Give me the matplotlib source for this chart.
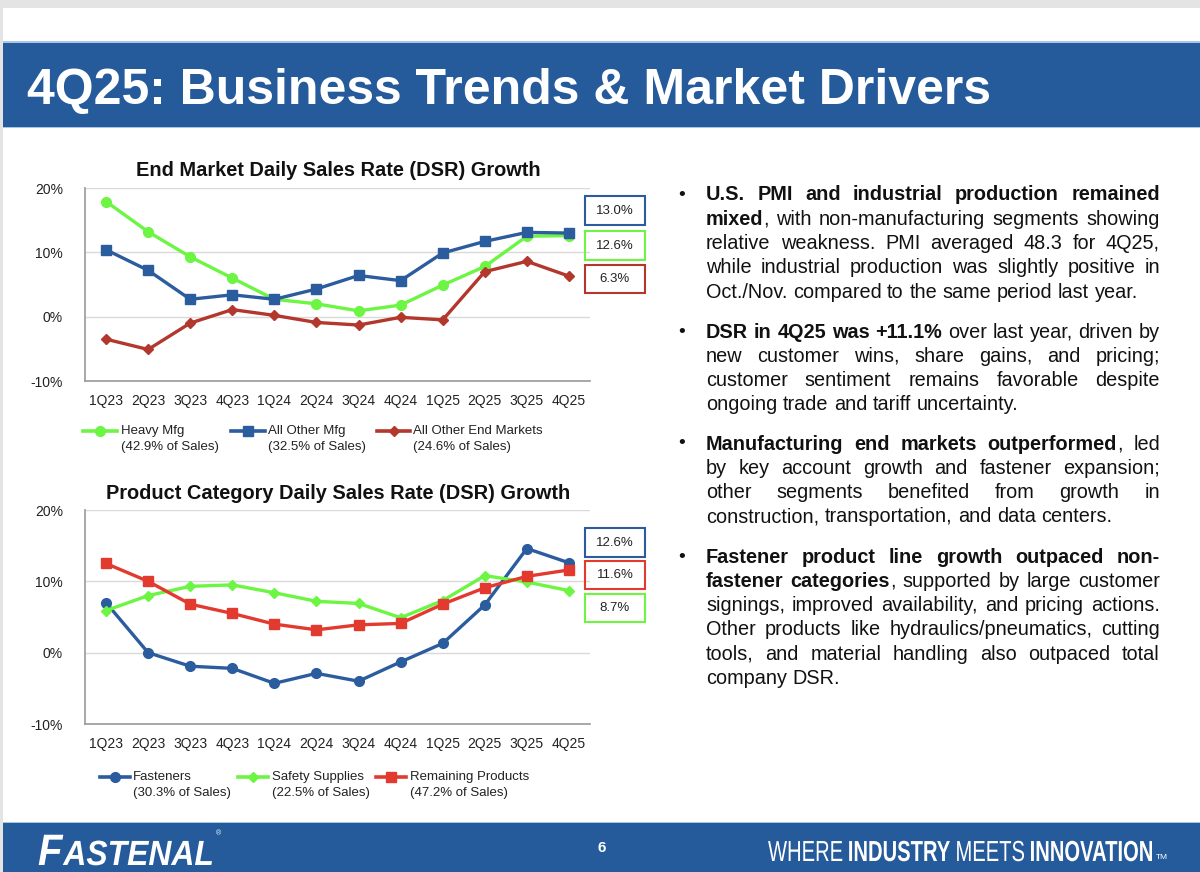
import matplotlib
matplotlib.use('Agg')
import matplotlib.pyplot as plt
import matplotlib.transforms as mtransforms
from matplotlib.lines import Line2D
from matplotlib.patches import Rectangle, PathPatch
from matplotlib.textpath import TextPath
from matplotlib.font_manager import FontProperties

plt.rcParams['font.family'] = ['Liberation Sans', 'DejaVu Sans']

# Data  ************************************************************************
quarters = ['1Q23', '2Q23', '3Q23', '4Q23', '1Q24', '2Q24',
            '3Q24', '4Q24', '1Q25', '2Q25', '3Q25', '4Q25']

# end market DSR growth (%)
heavy_mfg = [17.9, 13.2, 9.3, 6.0, 2.7, 2.0, 0.9, 1.8, 4.9, 7.8, 12.5, 12.6]
other_mfg = [10.4, 7.2, 2.7, 3.4, 2.7, 4.3, 6.4, 5.6, 9.9, 11.7, 13.1, 13.0]
other_end = [-3.5, -5.1, -1.0, 1.1, 0.2, -0.9, -1.3, -0.1, -0.5, 7.0, 8.6, 6.3]

# product category DSR growth (%)
fasteners = [7.0, 0.0, -1.9, -2.2, -4.3, -2.9, -4.0, -1.3, 1.3, 6.7, 14.6, 12.6]
safety = [5.9, 8.0, 9.3, 9.5, 8.4, 7.2, 6.9, 4.9, 7.3, 10.8, 9.9, 8.7]
remaining = [12.5, 10.0, 6.8, 5.5, 4.0, 3.2, 3.9, 4.1, 6.8, 9.1, 10.7, 11.6]

top_names = ['Heavy Mfg', 'All Other Mfg', 'All Other End Markets']
top_shares = ['(42.9% of Sales)', '(32.5% of Sales)', '(24.6% of Sales)']
bot_names = ['Fasteners', 'Safety Supplies', 'Remaining Products']
bot_shares = ['(30.3% of Sales)', '(22.5% of Sales)', '(47.2% of Sales)']

top_callouts = ['13.0%', '12.6%', '6.3%']
bot_callouts = ['12.6%', '11.6%', '8.7%']

bullets = [
    ['**U.S. PMI and industrial production remained**',
     '**mixed**, with non-manufacturing segments showing',
     'relative weakness. PMI averaged 48.3 for 4Q25,',
     'while industrial production was slightly positive in',
     'Oct./Nov. compared to the same period last year.'],
    ['**DSR in 4Q25 was +11.1%** over last year, driven by',
     'new customer wins, share gains, and pricing;',
     'customer sentiment remains favorable despite',
     'ongoing trade and tariff uncertainty.'],
    ['**Manufacturing end markets outperformed**, led',
     'by key account growth and fastener expansion;',
     'other segments benefited from growth in',
     'construction, transportation, and data centers.'],
    ['**Fastener product line growth outpaced non-**',
     '**fastener categories**, supported by large customer',
     'signings, improved availability, and pricing actions.',
     'Other products like hydraulics/pneumatics, cutting',
     'tools, and material handling also outpaced total',
     'company DSR.'],
]

# Style  ***********************************************************************
W, H = 1200, 872
BANNER = '#255A9B'
GREEN = '#6CF542'
BLUE = '#2B5C9E'
DKRED = '#B3372C'
RED = '#E23A2E'


def fx(x):
    return x / W


def fy(y):
    return 1 - y / H


fig = plt.figure(figsize=(12, 8.72), dpi=100)
fig.patch.set_facecolor('white')
renderer = fig.canvas.get_renderer()

# page frame
fig.add_artist(Rectangle((0, fy(8)), 1, 8 / H, transform=fig.transFigure, color='#E4E4E4', lw=0))
fig.add_artist(Rectangle((0, 0), 3 / W, 1, transform=fig.transFigure, color='#E4E4E4', lw=0))
fig.add_artist(Rectangle((fx(3), fy(128)), 1, 87 / H, transform=fig.transFigure, color='#A9C6E6', lw=0))
fig.add_artist(Rectangle((fx(3), fy(127)), 1, 84 / H, transform=fig.transFigure, color=BANNER, lw=0))
fig.text(fx(27), fy(91), '4Q25: Business Trends & Market Drivers', color='white',
         fontsize=36, fontweight='bold', va='center', ha='left')

fig.add_artist(Rectangle((fx(3), 0), 1, 50 / H, transform=fig.transFigure, color='#A9C6E6', lw=0))
fig.add_artist(Rectangle((fx(3), 0), 1, 49 / H, transform=fig.transFigure, color=BANNER, lw=0))


# Charts  **********************************************************************
def make_chart(top, bottom, title, series):
    ax = fig.add_axes([fx(85), fy(bottom), 505 / W, (bottom - top) / H])
    for vals, col, mk, ms in series:
        ax.plot(range(len(quarters)), vals, color=col, lw=2.4, marker=mk, ms=ms,
                markeredgecolor=col, zorder=3, clip_on=False)
    ax.set_xlim(-0.5, 11.5)
    ax.set_ylim(-10, 20)
    ax.set_yticks([-10, 0, 10, 20])
    ax.set_yticklabels(['-10%', '0%', '10%', '20%'])
    ax.set_xticks(range(len(quarters)))
    ax.set_xticklabels(quarters)
    ax.tick_params(length=0, labelsize=10, colors='#222222')
    ax.tick_params(axis='y', pad=16)
    ax.tick_params(axis='x', pad=9)
    ax.grid(axis='y', color='#D9D9D9', lw=1)
    ax.set_axisbelow(True)
    for s in ['top', 'right']:
        ax.spines[s].set_visible(False)
    for s in ['left', 'bottom']:
        ax.spines[s].set_color('#999999')
        ax.spines[s].set_linewidth(1.2)
    fig.text(fx(338), fy(top - 17), title, fontsize=14.4, fontweight='bold',
             ha='center', va='center', color='#111111')
    return ax


def legend_row(y, entries):
    # entries: (handle x0, handle x1, text x, color, marker, ms, name, share)
    for x0, x1, tx, col, mk, ms, name, share in entries:
        fig.add_artist(Line2D([fx(x0), fx((x0 + x1) / 2), fx(x1)], [fy(y)] * 3,
                              transform=fig.transFigure, color=col, lw=2.6,
                              marker=mk, ms=ms, markevery=[1]))
        fig.text(fx(tx), fy(y), name, fontsize=9.5, va='center', color='#222222')
        fig.text(fx(tx), fy(y + 16), share, fontsize=9.5, va='center', color='#222222')


def callouts(boxes):
    for y0, y1, txt, col in boxes:
        fig.add_artist(Rectangle((fx(585), fy(y1)), 60 / W, (y1 - y0) / H,
                                 transform=fig.transFigure, fill=False,
                                 edgecolor=col, lw=1.5))
        fig.text(fx(615), fy((y0 + y1) / 2), txt, fontsize=9.5, ha='center',
                 va='center', color='#222222')


make_chart(188, 381, 'End Market Daily Sales Rate (DSR) Growth',
           [(heavy_mfg, GREEN, 'o', 7), (other_end, DKRED, 'D', 5),
            (other_mfg, BLUE, 's', 7)])
legend_row(431, [(83, 117, 121, GREEN, 'o', 7, top_names[0], top_shares[0]),
                 (231, 265, 268, BLUE, 's', 7, top_names[1], top_shares[1]),
                 (377, 410, 413, DKRED, 'D', 5, top_names[2], top_shares[2])])
callouts([(196, 225, top_callouts[0], BLUE),
          (231, 260, top_callouts[1], GREEN),
          (265, 293, top_callouts[2], DKRED)])

make_chart(510, 724, 'Product Category Daily Sales Rate (DSR) Growth',
           [(fasteners, BLUE, 'o', 7), (safety, GREEN, 'D', 5),
            (remaining, RED, 's', 7)])
legend_row(777, [(100, 130, 133, BLUE, 'o', 7, bot_names[0], bot_shares[0]),
                 (238, 268, 272, GREEN, 'D', 5, bot_names[1], bot_shares[1]),
                 (376, 406, 410, RED, 's', 7, bot_names[2], bot_shares[2])])
callouts([(528, 557, bot_callouts[0], BLUE),
          (561, 589, bot_callouts[1], RED),
          (594, 622, bot_callouts[2], GREEN)])


# Bullet text  *****************************************************************
def parse_words(line):
    words = []
    bold = False
    for raw in line.split(' '):
        pieces = []
        parts = raw.split('**')
        for i, p in enumerate(parts):
            if i > 0:
                bold = not bold
            if p:
                pieces.append((p, bold))
        words.append(pieces)
    return words


def draw_line(y, line, x0, x1, justify, size=14.3):
    words = parse_words(line)
    objs, widths = [], []
    for w in words:
        wo, ww = [], 0
        for text, bold in w:
            t = fig.text(0, 0, text, fontsize=size, color='#111111', va='center',
                         fontweight='bold' if bold else 'normal')
            bw = t.get_window_extent(renderer).width
            wo.append((t, bw))
            ww += bw
        objs.append(wo)
        widths.append(ww)
    if justify and len(words) > 1:
        gap = (x1 - x0 - sum(widths)) / (len(words) - 1)
    else:
        gap = size * 100 / 72 * 0.278
    x = x0
    for wo in objs:
        for t, bw in wo:
            t.set_position((fx(x), fy(y)))
            x += bw
        x += gap


starts = [195, 332, 444, 557]
for start, para in zip(starts, bullets):
    fig.text(fx(678), fy(start), '•', fontsize=14, va='center', color='#111111')
    for i, line in enumerate(para):
        draw_line(start + i * 24.3, line, 706, 1160, i < len(para) - 1)


# Footer  **********************************************************************
def text_path(s, size, bold=False, italic=False):
    fp = FontProperties(family='Liberation Sans', weight='bold' if bold else 'normal',
                        style='italic' if italic else 'normal')
    return TextPath((0, 0), s, size=size, prop=fp)


def place_paths(items, x0, x1, base, gap):
    # items: (path, baseline shift); squeeze horizontally to fill x0..x1
    natural = sum(p.get_extents().x1 for p, _ in items) + gap * (len(items) - 1)
    sx = (x1 - x0) / natural
    x = x0
    for p, dy in items:
        tr = mtransforms.Affine2D().scale(sx, 1).translate(x, H - base - dy)
        fig.add_artist(PathPatch(p, transform=tr, facecolor='white', lw=0))
        x += (p.get_extents().x1 + gap) * sx


# logo
place_paths([(text_path('F', 44, True, True), 0),
             (text_path('ASTENAL', 35, True, True), 0)], 38, 212, 865, 0)
fig.text(fx(216), fy(834), '®', color='white', fontsize=5, va='center')
fig.text(fx(602), fy(848), '6', color='white', fontsize=11, fontweight='bold',
         ha='center', va='center')

# tagline
place_paths([(text_path('WHERE', 29), 0), (text_path('INDUSTRY', 29, True), 0),
             (text_path('MEETS', 29), 0), (text_path('INNOVATION', 29, True), 0)],
            768, 1152, 861, 8)
fig.text(fx(1156), fy(857), 'TM', color='white', fontsize=6, va='center')

fig.savefig('out.png', dpi=100)
